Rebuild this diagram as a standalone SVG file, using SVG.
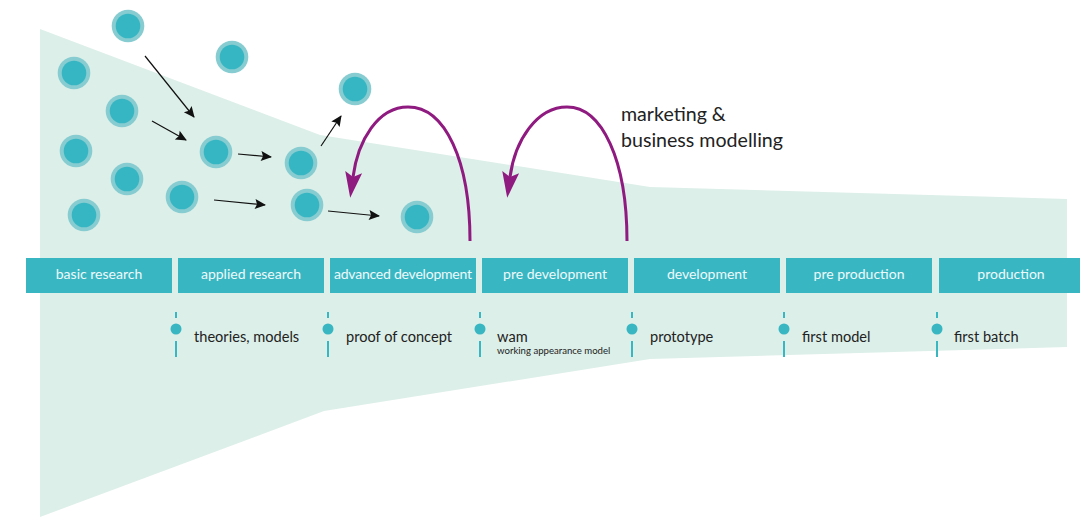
<svg xmlns="http://www.w3.org/2000/svg" width="1080" height="517" viewBox="0 0 1080 517">
<style>
.bar{fill:#38b7c3}
.bt{font-family:Lato,"Open Sans",sans-serif;font-size:14px;fill:#eef9fa;text-anchor:middle}
.ml{font-family:Lato,"Open Sans",sans-serif;font-size:14.6px;fill:#222}
.sm{font-family:Lato,"Open Sans",sans-serif;font-size:9.6px;fill:#222}
.tk{stroke:#38b7c3;stroke-width:2}
.mk{fill:#38b7c3}
.no{fill:#86ccd1}
.ni{fill:#36b6c2}
.ar{stroke:#111;stroke-width:1.2;fill:none;marker-end:url(#ah)}
.pa{stroke:#8f1a80;stroke-width:3;fill:none;marker-end:url(#ph)}
.big{font-family:Lato,"Open Sans",sans-serif;font-size:19.6px;fill:#222}
</style>
<defs>
<marker id="ah" markerUnits="userSpaceOnUse" markerWidth="14" markerHeight="12" refX="8" refY="0" viewBox="-6 -6 14 12" orient="auto" overflow="visible">
<path d="M9,0 L-2,-5 L0,0 L-2,5 Z" fill="#111"/>
</marker>
<marker id="ph" markerUnits="userSpaceOnUse" markerWidth="30" markerHeight="20" refX="0" refY="0" viewBox="-6 -10 30 20" orient="auto" overflow="visible">
<path d="M21,0 L-5,-8.5 L0,0 L-5,8.5 Z" fill="#8f1a80"/>
</marker>
</defs>
<rect width="1080" height="517" fill="#fff"/>
<polygon id="funnel" points="40,29 320,135 650,187 1067,199 1067,347 650,359 324,411 40,517" fill="#dcefe8"/>

<g id="phases">
<g id="p1"><rect class="bar" x="26" y="258" width="146" height="35"/><text class="bt" x="99" y="279">basic research</text></g>
<g id="p2"><rect class="bar" x="178" y="258" width="146" height="35"/><text class="bt" x="251" y="279">applied research</text></g>
<g id="p3"><rect class="bar" x="330" y="258" width="146" height="35"/><text class="bt" x="403" y="279" textLength="138">advanced development</text></g>
<g id="p4"><rect class="bar" x="482" y="258" width="146" height="35"/><text class="bt" x="555" y="279">pre development</text></g>
<g id="p5"><rect class="bar" x="634" y="258" width="146" height="35"/><text class="bt" x="707" y="279">development</text></g>
<g id="p6"><rect class="bar" x="786" y="258" width="146" height="35"/><text class="bt" x="859" y="279">pre production</text></g>
<g id="p7"><rect class="bar" x="939" y="258" width="146" height="35"/><text class="bt" x="1011" y="279">production</text></g>
</g>

<g id="milestones">
<g id="m1"><line class="tk" x1="176" y1="312" x2="176" y2="318"/><circle class="mk" cx="176" cy="329" r="5.5"/><line class="tk" x1="176" y1="341" x2="176" y2="357"/><text class="ml" x="194" y="342">theories, models</text></g>
<g id="m2"><line class="tk" x1="328" y1="312" x2="328" y2="318"/><circle class="mk" cx="328" cy="329" r="5.5"/><line class="tk" x1="328" y1="341" x2="328" y2="357"/><text class="ml" x="346" y="342">proof of concept</text></g>
<g id="m3"><line class="tk" x1="480" y1="312" x2="480" y2="318"/><circle class="mk" cx="480" cy="329" r="5.5"/><line class="tk" x1="480" y1="341" x2="480" y2="357"/><text class="ml" x="497" y="342">wam</text><text class="sm" x="497" y="354">working appearance model</text></g>
<g id="m4"><line class="tk" x1="632" y1="312" x2="632" y2="318"/><circle class="mk" cx="632" cy="329" r="5.5"/><line class="tk" x1="632" y1="341" x2="632" y2="357"/><text class="ml" x="650" y="342">prototype</text></g>
<g id="m5"><line class="tk" x1="784" y1="312" x2="784" y2="318"/><circle class="mk" cx="784" cy="329" r="5.5"/><line class="tk" x1="784" y1="341" x2="784" y2="357"/><text class="ml" x="802" y="342">first model</text></g>
<g id="m6"><line class="tk" x1="937" y1="312" x2="937" y2="318"/><circle class="mk" cx="937" cy="329" r="5.5"/><line class="tk" x1="937" y1="341" x2="937" y2="357"/><text class="ml" x="954" y="342">first batch</text></g>
</g>

<g id="ideas">
<g id="n1"><circle class="no" cx="128" cy="26" r="16.3"/><circle class="ni" cx="128" cy="26" r="12.3"/></g>
<g id="n2"><circle class="no" cx="232" cy="57" r="16.3"/><circle class="ni" cx="232" cy="57" r="12.3"/></g>
<g id="n3"><circle class="no" cx="74" cy="73" r="16.3"/><circle class="ni" cx="74" cy="73" r="12.3"/></g>
<g id="n4"><circle class="no" cx="122" cy="111" r="16.3"/><circle class="ni" cx="122" cy="111" r="12.3"/></g>
<g id="n5"><circle class="no" cx="76" cy="151" r="16.3"/><circle class="ni" cx="76" cy="151" r="12.3"/></g>
<g id="n6"><circle class="no" cx="127" cy="179" r="16.3"/><circle class="ni" cx="127" cy="179" r="12.3"/></g>
<g id="n7"><circle class="no" cx="84" cy="215" r="16.3"/><circle class="ni" cx="84" cy="215" r="12.3"/></g>
<g id="n8"><circle class="no" cx="182" cy="197" r="16.3"/><circle class="ni" cx="182" cy="197" r="12.3"/></g>
<g id="n9"><circle class="no" cx="216" cy="152" r="16.3"/><circle class="ni" cx="216" cy="152" r="12.3"/></g>
<g id="n10"><circle class="no" cx="301" cy="163" r="16.3"/><circle class="ni" cx="301" cy="163" r="12.3"/></g>
<g id="n11"><circle class="no" cx="307" cy="205" r="16.3"/><circle class="ni" cx="307" cy="205" r="12.3"/></g>
<g id="n12"><circle class="no" cx="355" cy="89" r="16.3"/><circle class="ni" cx="355" cy="89" r="12.3"/></g>
<g id="n13"><circle class="no" cx="417" cy="217" r="16.3"/><circle class="ni" cx="417" cy="217" r="12.3"/></g>
</g>

<g id="connectors">
<line class="ar" x1="145" y1="56" x2="194" y2="117"/>
<line class="ar" x1="152" y1="121" x2="186" y2="140"/>
<line class="ar" x1="238" y1="154" x2="271" y2="157"/>
<line class="ar" x1="321" y1="146" x2="341" y2="116"/>
<line class="ar" x1="214" y1="200" x2="265" y2="205"/>
<line class="ar" x1="328" y1="211" x2="379" y2="216"/>
<path class="pa" d="M470,241 C470,160 445,107 408,107 C378,107 358,140 353,177"/>
<path class="pa" d="M627,241 C627,160 602,107 567,107 C537,107 515,140 510,177"/>
</g>

<g id="label">
<text class="big" x="621" y="121">marketing &amp;</text>
<text class="big" x="621" y="147">business modelling</text>
</g>
</svg>
